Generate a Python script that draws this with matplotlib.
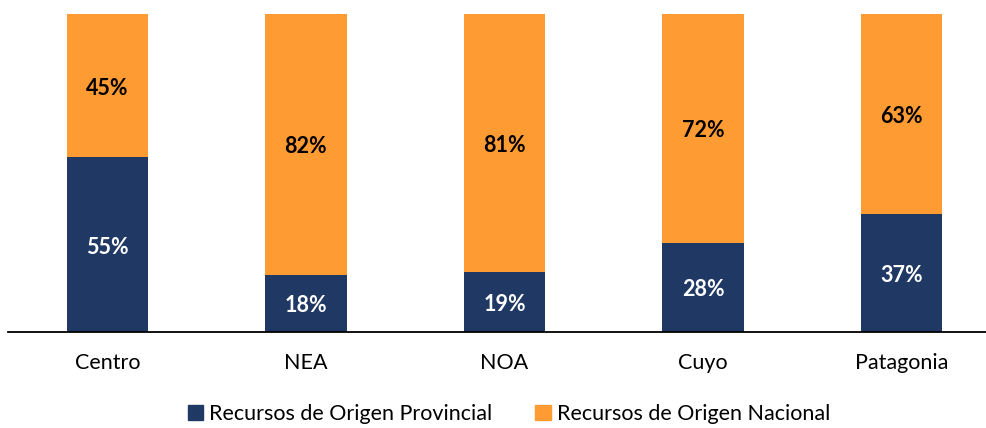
import matplotlib
matplotlib.use("Agg")
import matplotlib.pyplot as plt
from matplotlib.patches import Patch
from matplotlib.transforms import offset_copy

categories = ["Centro", "NEA", "NOA", "Cuyo", "Patagonia"]
provincial = [55, 18, 19, 28, 37]
nacional = [45, 82, 81, 72, 63]
series_names = ["Recursos de Origen Provincial", "Recursos de Origen Nacional"]

navy = "#203864"
orange = "#FF9B33"

plt.rcParams['font.family'] = ['Lato', 'DejaVu Sans']

W, H = 987, 428
fig = plt.figure(figsize=(W/100, H/100), dpi=100)
ax = fig.add_axes([8/W, (H-332)/H, 993/W, 318/H])

x = list(range(len(categories)))
bw = 0.41
ax.bar(x, provincial, width=bw, color=navy)
ax.bar(x, nacional, width=bw, bottom=provincial, color=orange)

tr = offset_copy(ax.transData, fig=fig, x=0, y=-2.5, units="dots")
for i in x:
    ax.text(i, provincial[i]/2, f"{provincial[i]}%", ha="center", va="center",
            color="white", fontsize=15.5, fontweight="bold", transform=tr)
    ax.text(i, provincial[i] + nacional[i]/2, f"{nacional[i]}%", ha="center", va="center",
            color="black", fontsize=15.5, fontweight="bold", transform=tr)

ax.set_xlim(-0.5, 4.5)
ax.set_ylim(0, 100)
ax.set_xticks(x)
ax.set_xticklabels(categories, fontsize=15.5)
ax.tick_params(axis="x", length=0, pad=15)
ax.set_yticks([])
for s in ["top", "right", "left"]:
    ax.spines[s].set_visible(False)
ax.spines["bottom"].set_color("black")
ax.spines["bottom"].set_linewidth(1.3)

handles = [Patch(color=navy), Patch(color=orange)]
fig.legend(handles, series_names, loc="center", bbox_to_anchor=(509/W, 1 - 414/H),
           ncol=2, frameon=False, fontsize=15.5, handlelength=0.7, handleheight=0.7,
           handletextpad=0.3, columnspacing=2.0)

fig.savefig("out.png", dpi=100)
